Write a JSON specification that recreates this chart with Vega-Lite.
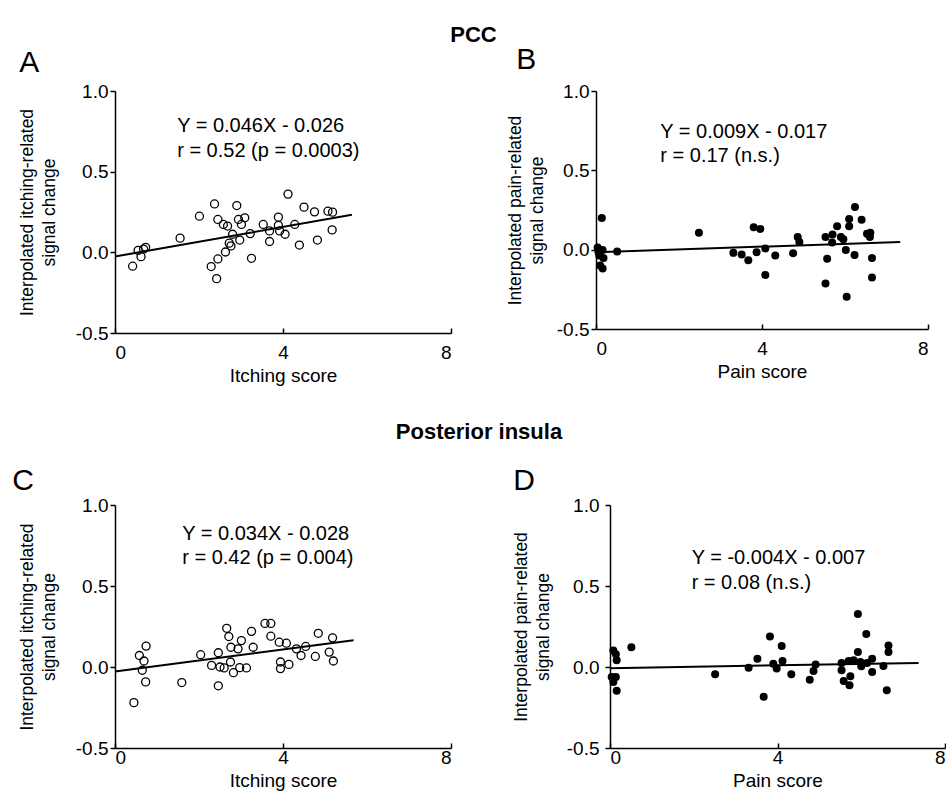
{
  "$schema": "https://vega.github.io/schema/vega-lite/v6.json",
  "padding": {"left": 12, "top": 24, "right": 0, "bottom": 0},
  "background": "white",
  "config": {
    "view": {"stroke": null},
    "font": "Liberation Sans",
    "axis": {"grid": false, "domainColor": "black", "tickColor": "black", "labelColor": "black", "titleColor": "black", "labelFontSize": 19, "titleFontWeight": "normal", "tickSize": 5, "domainWidth": 1.5, "tickWidth": 1.5, "labelFont": "Liberation Sans", "titleFont": "Liberation Sans"},
    "axisX": {"tickSize": -5, "labelPadding": 15.5, "titlePadding": 4, "titleFontSize": 19},
    "axisY": {"labelPadding": 2, "titlePadding": 17, "titleLineHeight": 22, "titleFontSize": 17.5}
  },
  "datasets": {
    "ptsA": [
      {"score":0.42,"signal":-0.086},{"score":0.55,"signal":0.012},{"score":0.62,"signal":-0.027},{"score":0.68,"signal":0.02},{"score":0.73,"signal":0.031},{"score":1.55,"signal":0.088},{"score":2.01,"signal":0.224},{"score":2.37,"signal":0.30},{"score":2.29,"signal":-0.088},{"score":2.42,"signal":-0.163},{"score":2.45,"signal":-0.041},{"score":2.45,"signal":0.204},{"score":2.58,"signal":0.173},{"score":2.68,"signal":0.163},{"score":2.63,"signal":0.002},{"score":2.72,"signal":0.057},{"score":2.76,"signal":0.04},{"score":2.80,"signal":0.112},{"score":2.90,"signal":0.29},{"score":2.94,"signal":0.204},{"score":2.97,"signal":0.076},{"score":3.01,"signal":0.173},{"score":3.09,"signal":0.214},{"score":3.22,"signal":0.116},{"score":3.25,"signal":-0.037},{"score":3.53,"signal":0.173},{"score":3.68,"signal":0.067},{"score":3.68,"signal":0.133},{"score":3.89,"signal":0.218},{"score":3.89,"signal":0.167},{"score":3.92,"signal":0.133},{"score":4.05,"signal":0.112},{"score":4.12,"signal":0.361},{"score":4.28,"signal":0.173},{"score":4.39,"signal":0.045},{"score":4.50,"signal":0.28},{"score":4.75,"signal":0.251},{"score":4.82,"signal":0.076},{"score":5.07,"signal":0.255},{"score":5.18,"signal":0.249},{"score":5.17,"signal":0.139}
    ],
    "ptsB": [
      {"score":0.14,"signal":0.20},{"score":0.04,"signal":0.014},{"score":0.06,"signal":-0.016},{"score":0.08,"signal":-0.037},{"score":0.16,"signal":-0.002},{"score":0.18,"signal":-0.053},{"score":0.16,"signal":-0.118},{"score":0.10,"signal":-0.10},{"score":0.51,"signal":-0.012},{"score":2.48,"signal":0.106},{"score":3.31,"signal":-0.02},{"score":3.51,"signal":-0.031},{"score":3.67,"signal":-0.067},{"score":3.80,"signal":0.141},{"score":3.96,"signal":0.131},{"score":3.87,"signal":-0.016},{"score":4.08,"signal":0.008},{"score":4.08,"signal":-0.159},{"score":4.32,"signal":-0.037},{"score":4.75,"signal":-0.022},{"score":4.86,"signal":0.08},{"score":4.90,"signal":0.049},{"score":5.53,"signal":0.08},{"score":5.57,"signal":-0.057},{"score":5.53,"signal":-0.214},{"score":5.69,"signal":0.045},{"score":5.70,"signal":0.096},{"score":5.81,"signal":0.147},{"score":5.90,"signal":0.08},{"score":5.96,"signal":0.065},{"score":6.02,"signal":-0.002},{"score":6.04,"signal":-0.296},{"score":6.10,"signal":0.194},{"score":6.10,"signal":0.147},{"score":6.24,"signal":0.269},{"score":6.23,"signal":-0.033},{"score":6.40,"signal":0.188},{"score":6.53,"signal":0.10},{"score":6.61,"signal":0.106},{"score":6.60,"signal":0.08},{"score":6.65,"signal":-0.053},{"score":6.65,"signal":-0.176}
    ],
    "ptsC": [
      {"score":0.45,"signal":-0.22},{"score":0.58,"signal":0.071},{"score":0.69,"signal":0.037},{"score":0.74,"signal":0.129},{"score":0.65,"signal":-0.02},{"score":0.73,"signal":-0.092},{"score":1.59,"signal":-0.096},{"score":2.04,"signal":0.076},{"score":2.30,"signal":0.010},{"score":2.46,"signal":0.088},{"score":2.46,"signal":-0.116},{"score":2.50,"signal":0.0},{"score":2.60,"signal":-0.006},{"score":2.66,"signal":0.239},{"score":2.71,"signal":0.188},{"score":2.75,"signal":0.031},{"score":2.76,"signal":0.122},{"score":2.82,"signal":-0.035},{"score":2.93,"signal":0.112},{"score":2.97,"signal":-0.004},{"score":3.01,"signal":0.163},{"score":3.13,"signal":-0.006},{"score":3.25,"signal":0.22},{"score":3.29,"signal":0.122},{"score":3.57,"signal":0.269},{"score":3.71,"signal":0.269},{"score":3.71,"signal":0.19},{"score":3.91,"signal":0.153},{"score":3.94,"signal":0.031},{"score":3.94,"signal":-0.01},{"score":4.08,"signal":0.147},{"score":4.14,"signal":0.016},{"score":4.32,"signal":0.112},{"score":4.43,"signal":0.071},{"score":4.54,"signal":0.127},{"score":4.77,"signal":0.065},{"score":4.84,"signal":0.208},{"score":5.10,"signal":0.092},{"score":5.18,"signal":0.18},{"score":5.20,"signal":0.037}
    ],
    "ptsD": [
      {"score":0.08,"signal":0.102},{"score":0.14,"signal":0.078},{"score":0.16,"signal":0.041},{"score":0.04,"signal":-0.061},{"score":0.14,"signal":-0.061},{"score":0.08,"signal":-0.092},{"score":0.16,"signal":-0.147},{"score":0.51,"signal":0.122},{"score":2.51,"signal":-0.045},{"score":3.31,"signal":-0.004},{"score":3.52,"signal":0.051},{"score":3.67,"signal":-0.184},{"score":3.82,"signal":0.188},{"score":3.90,"signal":0.02},{"score":3.98,"signal":-0.01},{"score":4.10,"signal":0.129},{"score":4.12,"signal":0.037},{"score":4.33,"signal":-0.045},{"score":4.77,"signal":-0.078},{"score":4.86,"signal":-0.024},{"score":4.91,"signal":0.016},{"score":5.53,"signal":0.024},{"score":5.53,"signal":-0.02},{"score":5.58,"signal":-0.086},{"score":5.72,"signal":-0.112},{"score":5.74,"signal":-0.057},{"score":5.70,"signal":0.037},{"score":5.82,"signal":0.041},{"score":5.92,"signal":0.327},{"score":5.92,"signal":0.092},{"score":5.98,"signal":0.031},{"score":6.00,"signal":0.004},{"score":6.12,"signal":0.204},{"score":6.14,"signal":0.024},{"score":6.26,"signal":0.051},{"score":6.26,"signal":-0.031},{"score":6.53,"signal":0.006},{"score":6.61,"signal":-0.143},{"score":6.65,"signal":0.133},{"score":6.65,"signal":0.092}
    ],
    "lineA": [{"score":0,"signal":-0.026},{"score":5.64,"signal":0.233}],
    "lineB": [{"score":0,"signal":-0.017},{"score":7.33,"signal":0.049}],
    "lineC": [{"score":0,"signal":-0.028},{"score":5.68,"signal":0.165}],
    "lineD": [{"score":0,"signal":-0.007},{"score":7.37,"signal":0.025}],
    "textA": [{"x":1.48,"y":0.78,"label":"Y = 0.046X - 0.026"},{"x":1.48,"y":0.628,"label":"r = 0.52 (p = 0.0003)"}],
    "textB": [{"x":1.55,"y":0.744,"label":"Y = 0.009X - 0.017"},{"x":1.55,"y":0.59,"label":"r = 0.17 (n.s.)"}],
    "textC": [{"x":1.6,"y":0.82,"label":"Y = 0.034X - 0.028"},{"x":1.6,"y":0.67,"label":"r = 0.42 (p = 0.004)"}],
    "textD": [{"x":1.95,"y":0.675,"label":"Y = -0.004X - 0.007"},{"x":1.95,"y":0.52,"label":"r = 0.08 (n.s.)"}]
  },
  "spacing": 35,
  "vconcat": [
    {
      "title": {"text": "PCC", "fontSize": 22, "fontWeight": "bold", "anchor": "middle", "offset": -2, "color": "black"},
      "spacing": 54,
      "hconcat": [
        {
          "width": 336, "height": 242,
          "title": {"text": "A", "anchor": "start", "frame": "bounds", "fontSize": 30, "fontWeight": "normal", "offset": 4, "dx": 1, "color": "black"},
          "layer": [
            {"data": {"name": "ptsA"}, "mark": {"type": "point", "shape": "circle", "filled": false, "stroke": "black", "strokeWidth": 1.3, "size": 64, "opacity": 1},
             "encoding": {
               "x": {"field": "score", "type": "quantitative", "scale": {"domain": [0, 8], "nice": false}, "axis": {"values": [0, 4, 8], "title": "Itching score"}},
               "y": {"field": "signal", "type": "quantitative", "scale": {"domain": [-0.5, 1], "nice": false}, "axis": {"values": [-0.5, 0, 0.5, 1], "title": ["Interpolated itching-related", "signal change"], "labelExpr": "datum.value < 0 ? '-' + format(-datum.value, '.1f') : format(datum.value, '.1f')"}}}},
            {"data": {"name": "lineA"}, "mark": {"type": "line", "color": "black", "strokeWidth": 2},
             "encoding": {"x": {"field": "score", "type": "quantitative"}, "y": {"field": "signal", "type": "quantitative"}}},
            {"data": {"name": "textA"}, "mark": {"type": "text", "align": "left", "baseline": "middle", "fontSize": 20, "color": "black"},
             "encoding": {"x": {"field": "x", "type": "quantitative"}, "y": {"field": "y", "type": "quantitative"}, "text": {"field": "label"}}}
          ]
        },
        {
          "width": 332, "height": 238,
          "title": {"text": "B", "anchor": "start", "frame": "bounds", "fontSize": 30, "fontWeight": "normal", "offset": 7, "dx": 10, "color": "black"},
          "layer": [
            {"data": {"name": "ptsB"}, "mark": {"type": "circle", "color": "black", "size": 64, "opacity": 1},
             "encoding": {
               "x": {"field": "score", "type": "quantitative", "scale": {"domain": [0, 8], "nice": false}, "axis": {"values": [0, 4, 8], "title": "Pain score"}},
               "y": {"field": "signal", "type": "quantitative", "scale": {"domain": [-0.5, 1], "nice": false}, "axis": {"values": [-0.5, 0, 0.5, 1], "titlePadding": 10, "title": ["Interpolated pain-related", "signal change"], "labelExpr": "datum.value < 0 ? '-' + format(-datum.value, '.1f') : format(datum.value, '.1f')"}}}},
            {"data": {"name": "lineB"}, "mark": {"type": "line", "color": "black", "strokeWidth": 2},
             "encoding": {"x": {"field": "score", "type": "quantitative"}, "y": {"field": "signal", "type": "quantitative"}}},
            {"data": {"name": "textB"}, "mark": {"type": "text", "align": "left", "baseline": "middle", "fontSize": 20, "color": "black"},
             "encoding": {"x": {"field": "x", "type": "quantitative"}, "y": {"field": "y", "type": "quantitative"}, "text": {"field": "label"}}}
          ]
        }
      ]
    },
    {
      "title": {"text": "Posterior insula", "fontSize": 22, "fontWeight": "bold", "anchor": "middle", "offset": 22, "color": "black"},
      "spacing": 60,
      "hconcat": [
        {
          "width": 336, "height": 243,
          "title": {"text": "C", "anchor": "start", "frame": "bounds", "fontSize": 30, "fontWeight": "normal", "offset": 0, "dx": -6, "color": "black"},
          "layer": [
            {"data": {"name": "ptsC"}, "mark": {"type": "point", "shape": "circle", "filled": false, "stroke": "black", "strokeWidth": 1.3, "size": 64, "opacity": 1},
             "encoding": {
               "x": {"field": "score", "type": "quantitative", "scale": {"domain": [0, 8], "nice": false}, "axis": {"values": [0, 4, 8], "title": "Itching score", "labelPadding": 5.5}},
               "y": {"field": "signal", "type": "quantitative", "scale": {"domain": [-0.5, 1], "nice": false}, "axis": {"values": [-0.5, 0, 0.5, 1], "title": ["Interpolated itching-related", "signal change"], "labelExpr": "datum.value < 0 ? '-' + format(-datum.value, '.1f') : format(datum.value, '.1f')"}}}},
            {"data": {"name": "lineC"}, "mark": {"type": "line", "color": "black", "strokeWidth": 2},
             "encoding": {"x": {"field": "score", "type": "quantitative"}, "y": {"field": "signal", "type": "quantitative"}}},
            {"data": {"name": "textC"}, "mark": {"type": "text", "align": "left", "baseline": "middle", "fontSize": 20, "color": "black"},
             "encoding": {"x": {"field": "x", "type": "quantitative"}, "y": {"field": "y", "type": "quantitative"}, "text": {"field": "label"}}}
          ]
        },
        {
          "width": 335, "height": 243,
          "title": {"text": "D", "anchor": "start", "frame": "bounds", "fontSize": 30, "fontWeight": "normal", "offset": 0, "dx": 1, "color": "black"},
          "layer": [
            {"data": {"name": "ptsD"}, "mark": {"type": "circle", "color": "black", "size": 64, "opacity": 1},
             "encoding": {
               "x": {"field": "score", "type": "quantitative", "scale": {"domain": [0, 8], "nice": false}, "axis": {"values": [0, 4, 8], "title": "Pain score", "labelPadding": 5.5}},
               "y": {"field": "signal", "type": "quantitative", "scale": {"domain": [-0.5, 1], "nice": false}, "axis": {"values": [-0.5, 0, 0.5, 1], "titlePadding": 14, "labelPadding": 6, "title": ["Interpolated pain-related", "signal change"], "labelExpr": "datum.value < 0 ? '-' + format(-datum.value, '.1f') : format(datum.value, '.1f')"}}}},
            {"data": {"name": "lineD"}, "mark": {"type": "line", "color": "black", "strokeWidth": 2},
             "encoding": {"x": {"field": "score", "type": "quantitative"}, "y": {"field": "signal", "type": "quantitative"}}},
            {"data": {"name": "textD"}, "mark": {"type": "text", "align": "left", "baseline": "middle", "fontSize": 20, "color": "black"},
             "encoding": {"x": {"field": "x", "type": "quantitative"}, "y": {"field": "y", "type": "quantitative"}, "text": {"field": "label"}}}
          ]
        }
      ]
    }
  ]
}
